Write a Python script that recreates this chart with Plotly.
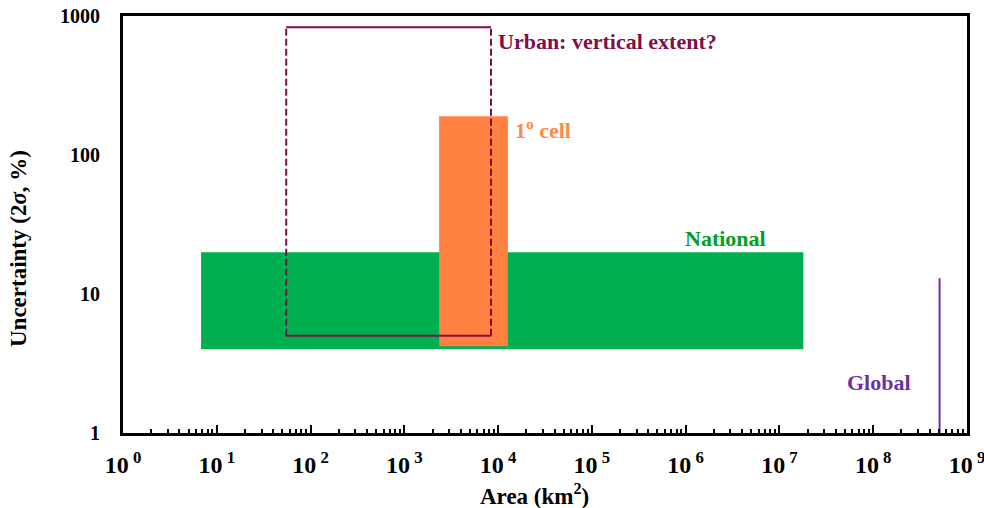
import plotly.graph_objects as go

# ---- data ----
x_tick_vals = [1, 1e1, 1e2, 1e3, 1e4, 1e5, 1e6, 1e7, 1e8, 1e9]
x_tick_text = ["10<sup> %d</sup>" % i for i in range(10)]
y_tick_vals = [1, 10, 100, 1000]
y_tick_text = ["1", "10", "100", "1000"]

national_x = [6.8, 1.8e7]
national_y = [4.0, 20.0]
cell_x = [2350, 12700]
cell_y = [4.2, 190]
urban_x = [55, 8400]
urban_y = [5.0, 830]
global_x = [5.1e8, 5.1e8]
global_y = [1.0, 13.0]

FONT = "Liberation Serif, Times New Roman, serif"
GREEN = "#00b050"
ORANGE = "#ff8040"
MAROON = "#7f0f4a"
PURPLE = "#7030a0"

def rect(xs, ys):
    return ([xs[0], xs[1], xs[1], xs[0], xs[0]],
            [ys[0], ys[0], ys[1], ys[1], ys[0]])

fig = go.Figure()

nx, ny = rect(national_x, national_y)
fig.add_trace(go.Scatter(x=nx, y=ny, fill="toself", fillcolor=GREEN, mode="lines",
                         line=dict(width=0, color=GREEN), hoverinfo="skip", showlegend=False))
cx, cy = rect(cell_x, cell_y)
fig.add_trace(go.Scatter(x=cx, y=cy, fill="toself", fillcolor=ORANGE, mode="lines",
                         line=dict(width=0, color=ORANGE), hoverinfo="skip", showlegend=False))
# urban box: horizontal edges solid, vertical edges dashed
fig.add_trace(go.Scatter(x=[urban_x[0], urban_x[1], None, urban_x[0], urban_x[1]],
                         y=[urban_y[0], urban_y[0], None, urban_y[1], urban_y[1]],
                         mode="lines", line=dict(width=2, color=MAROON),
                         hoverinfo="skip", showlegend=False, connectgaps=False))
fig.add_trace(go.Scatter(x=[urban_x[0], urban_x[0], None, urban_x[1], urban_x[1]],
                         y=[urban_y[0], urban_y[1], None, urban_y[0], urban_y[1]],
                         mode="lines", line=dict(width=2, color=MAROON, dash="7px,3px"),
                         hoverinfo="skip", showlegend=False, connectgaps=False))
fig.add_trace(go.Scatter(x=global_x, y=global_y, mode="lines",
                         line=dict(width=2, color=PURPLE), hoverinfo="skip", showlegend=False))

annots = [
    dict(x=3.98, y=2.815, text="Urban: vertical extent?", color=MAROON, xanchor="left"),
    dict(x=4.16, y=2.19, text="1<sup>o</sup> cell", color="#ff8a4c", xanchor="left"),
    dict(x=6.43, y=1.397, text="National", color="#00a020", xanchor="center"),
    dict(x=8.06, y=0.36, text="Global", color=PURPLE, xanchor="center"),
]
for a in annots:
    fig.add_annotation(x=a["x"], y=a["y"], xref="x", yref="y", text="<b>%s</b>" % a["text"],
                       showarrow=False, xanchor=a["xanchor"], yanchor="middle",
                       font=dict(family=FONT, size=22, color=a["color"]))

fig.add_annotation(x=(534 - 123) / 844, y=(433 - 494) / 417, xref="paper", yref="paper",
                   text="<b>Area (km<sup>2</sup>)</b>", showarrow=False, xanchor="center",
                   yanchor="middle", font=dict(family=FONT, size=23, color="black"))
fig.add_annotation(x=(18 - 123) / 844, y=(433 - 249) / 417, xref="paper", yref="paper",
                   text="<b>Uncertainty (2<i>σ</i>, %)</b>", showarrow=False, textangle=-90,
                   xanchor="center", yanchor="middle",
                   font=dict(family=FONT, size=23, color="black"))

fig.update_layout(
    width=984, height=508,
    margin=dict(l=123, r=17, t=16, b=75, autoexpand=False),
    paper_bgcolor="white", plot_bgcolor="white",
    font=dict(family=FONT, color="black"),
    xaxis=dict(type="log", range=[0, 9], tickmode="array", tickvals=x_tick_vals,
               ticktext=["<b>%s</b>" % t for t in x_tick_text], ticks="inside", ticklen=8,
               tickwidth=2, tickcolor="black", automargin=False, ticklabeloverflow="allow",
               showline=True, linewidth=3, linecolor="black", mirror=True,
               showgrid=False, zeroline=False, ticklabelstandoff=8,
               tickfont=dict(family=FONT, size=24, color="black"),
               minor=dict(ticks="inside", ticklen=4, tickwidth=2, tickcolor="black",
                          dtick="D1", showgrid=False)),
    yaxis=dict(type="log", range=[0, 3], tickmode="array", tickvals=y_tick_vals,
               ticktext=["<b>%s</b>" % t for t in y_tick_text], ticks="", showline=True,
               linewidth=3, automargin=False, ticklabeloverflow="allow",
               linecolor="black", mirror=True, showgrid=False, zeroline=False,
               ticklabelstandoff=16,
               tickfont=dict(family=FONT, size=20, color="black")),
)

fig.write_html("out.html", config={"displayModeBar": False},
               post_script="document.body.style.margin='0';document.body.style.overflow='hidden';")
